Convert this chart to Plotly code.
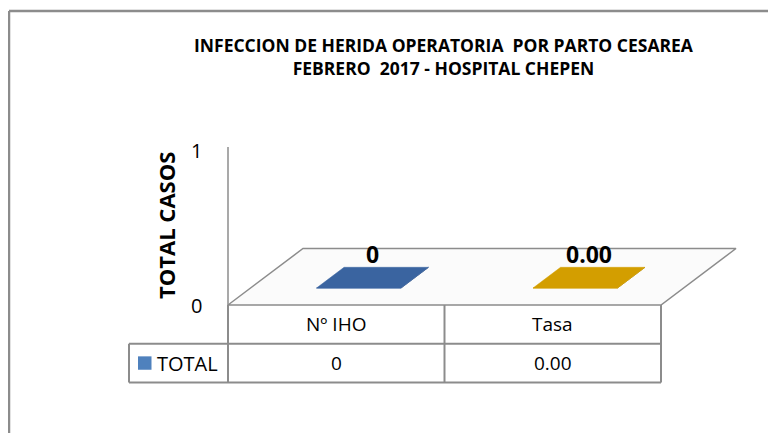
import plotly.graph_objects as go

# ---- data ----
categories = ["Nº IHO", "Tasa"]
series_name = "TOTAL"
values = [0, 0.00]
value_labels = ["0", "0.00"]
y_ticks = [0, 1]
title_lines = ["INFECCION DE HERIDA OPERATORIA  POR PARTO CESAREA",
               "FEBRERO  2017 - HOSPITAL CHEPEN"]
y_title = "TOTAL CASOS"

# ---- styling / geometry ----
OFF = 8                      # page body margin
W, H = 776 - OFF, 433 - OFF  # figure size
bar_top_colors = ["#3A64A0", "#D39E00"]
bar_side_colors = ["#2C4D7C", "#A87E00"]
legend_color = "#4F81BD"
line_col = "#8C8C8C"
FONT = "Open Sans"

PX_PER_CAT = 216.5
PX_PER_VAL = 155.0
X_LEFT_PX = 228.0 - OFF      # left edge of category -0.5
Y_ZERO_PX = 305.0 - OFF      # pixel of value 0
x_range = [-0.5 - X_LEFT_PX / PX_PER_CAT, -0.5 + (W - X_LEFT_PX) / PX_PER_CAT]
y_range = [-(H - Y_ZERO_PX) / PX_PER_VAL, Y_ZERO_PX / PX_PER_VAL]

DEPTH_X = 75 / PX_PER_CAT
DEPTH_Y = 56.5 / PX_PER_VAL
ymax = 1.02
n = len(categories)
xmin, xmax = -0.5, n - 0.5
half_w = 0.195
d0, d1 = 0.30, 0.667
row_h = 38.7 / PX_PER_VAL
label_col_left = -0.5 - 99 / PX_PER_CAT


def proj(x, y, d):
    return x + d * DEPTH_X, y + d * DEPTH_Y


fig = go.Figure()

# floor
fl = [proj(xmin, 0, 0), proj(xmin, 0, 1), proj(xmax, 0, 1), proj(xmax, 0, 0), proj(xmin, 0, 0)]
fig.add_trace(go.Scatter(x=[p[0] for p in fl], y=[p[1] for p in fl], mode="lines",
                         line=dict(color=line_col, width=1.5), fill="toself",
                         fillcolor="rgba(251,251,251,1)", hoverinfo="skip", showlegend=False))

# bars
for i, v in enumerate(values):
    xl, xr = i - half_w, i + half_w
    front = [proj(xl, 0, d0), proj(xr, 0, d0), proj(xr, v, d0), proj(xl, v, d0), proj(xl, 0, d0)]
    side = [proj(xr, 0, d0), proj(xr, 0, d1), proj(xr, v, d1), proj(xr, v, d0), proj(xr, 0, d0)]
    top = [proj(xl, v, d0), proj(xr, v, d0), proj(xr, v, d1), proj(xl, v, d1), proj(xl, v, d0)]
    for poly, col in ((front, bar_top_colors[i]), (side, bar_side_colors[i]), (top, bar_top_colors[i])):
        fig.add_trace(go.Scatter(x=[p[0] for p in poly], y=[p[1] for p in poly], mode="lines",
                                 line=dict(color=col, width=0.5), fill="toself", fillcolor=col,
                                 hoverinfo="skip", showlegend=False))
    cx, cy = proj(i, v, (d0 + d1) / 2)
    fig.add_annotation(x=cx, y=cy, text=f"<b>{value_labels[i]}</b>", showarrow=False,
                       yshift=24, font=dict(family=FONT, size=23, color="black"))

shapes = []
shapes.append(dict(type="line", x0=xmin, x1=xmin, y0=0, y1=ymax, line=dict(color=line_col, width=1.5)))
shapes.append(dict(type="line", x0=label_col_left, x1=xmax, y0=-row_h, y1=-row_h, line=dict(color=line_col, width=2)))
shapes.append(dict(type="line", x0=label_col_left, x1=xmax, y0=-2 * row_h, y1=-2 * row_h, line=dict(color=line_col, width=2)))
shapes.append(dict(type="line", x0=label_col_left, x1=label_col_left, y0=-row_h, y1=-2 * row_h, line=dict(color=line_col, width=2)))
for k in range(n + 1):
    shapes.append(dict(type="line", x0=k - 0.5, x1=k - 0.5, y0=0, y1=-2 * row_h, line=dict(color=line_col, width=2)))
# outer chart border (left & top)
shapes.append(dict(type="line", xref="paper", yref="paper", x0=1 / W, x1=1 / W, y0=0, y1=1 - 3 / H,
                   line=dict(color=line_col, width=2.5)))
shapes.append(dict(type="line", xref="paper", yref="paper", x0=1 / W, x1=1, y0=1 - 3 / H, y1=1 - 3 / H,
                   line=dict(color=line_col, width=2.5)))
# legend key
shapes.append(dict(type="rect", x0=label_col_left + 9 / PX_PER_CAT, x1=label_col_left + 22.5 / PX_PER_CAT,
                   y0=-1.5 * row_h - 6.7 / PX_PER_VAL, y1=-1.5 * row_h + 6.7 / PX_PER_VAL,
                   fillcolor=legend_color, line=dict(width=0)))
fig.update_layout(shapes=shapes)

# table text
for i, c in enumerate(categories):
    fig.add_annotation(x=i, y=-0.5 * row_h, text=c, showarrow=False,
                       font=dict(family=FONT, size=19, color="black"))
    fig.add_annotation(x=i, y=-1.5 * row_h, text=value_labels[i], showarrow=False,
                       font=dict(family=FONT, size=19, color="black"))
fig.add_annotation(x=label_col_left + 26 / PX_PER_CAT, y=-1.5 * row_h, text=series_name, showarrow=False,
                   xanchor="left", font=dict(family=FONT, size=20, color="black"))

# tick labels
for t in y_ticks:
    fig.add_annotation(x=xmin, y=t, text=str(t), showarrow=False, xanchor="right", xshift=-24,
                       font=dict(family=FONT, size=20, color="black"))
# y axis title
fig.add_annotation(x=xmin, y=0.5 * ymax, text=f"<b>{y_title}</b>", showarrow=False, textangle=-90,
                   xshift=-62, font=dict(family=FONT, size=22, color="black"))
# title (two lines, one text block)
fig.add_annotation(xref="paper", yref="paper", x=(444 - OFF) / W, y=1 - (56.5 - OFF) / H,
                   xanchor="center", yanchor="middle",
                   text="<b>" + "<br>".join(title_lines) + "</b>", showarrow=False,
                   font=dict(family=FONT, size=17.5, color="black"))

fig.update_layout(
    width=W, height=H, margin=dict(l=0, r=0, t=0, b=0),
    paper_bgcolor="white", plot_bgcolor="white",
    xaxis=dict(range=x_range, visible=False, fixedrange=True),
    yaxis=dict(range=y_range, visible=False, fixedrange=True),
    showlegend=False,
)
fig.write_html("out.html")
